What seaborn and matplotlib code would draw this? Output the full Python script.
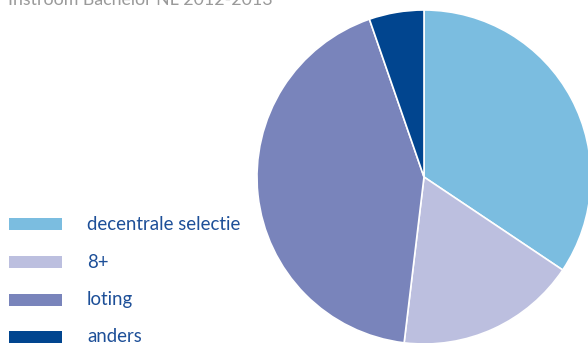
import matplotlib
matplotlib.use("Agg")
import matplotlib.pyplot as plt
from matplotlib.patches import Rectangle
import seaborn as sns

# Intake share per admission route (percent)
categories = ["decentrale selectie", "8+", "loting", "anders"]
shares = [34.4, 17.5, 42.8, 5.3]
colors = ["#7bbde0", "#bcbfdf", "#7984bb", "#01458f"]
title = "Instroom Bachelor NL 2012-2013"

sns.set_theme(style="white")
plt.rcParams["font.family"] = ["Lato", "DejaVu Sans"]

W, H = 588, 343
fig = plt.figure(figsize=(W / 100, H / 100), dpi=100)
fig.patch.set_facecolor("white")

# Pie axes: centre (424, 177) px, radius 167 px
cx, cy, r = 424, 177, 167
ax = fig.add_axes([(cx - r) / W, (H - cy - r) / H, 2 * r / W, 2 * r / H])
ax.pie(shares, colors=colors, startangle=90, counterclock=False,
       wedgeprops=dict(edgecolor="white", linewidth=1.2))
ax.set_xlim(-1, 1)
ax.set_ylim(-1, 1)
ax.set_aspect("equal")
ax.axis("off")

# Title, partly above the top edge
fig.text(8 / W, 1 - 5 / H, title, color="#9a9a9a", fontsize=12.8,
         ha="left", va="baseline")

# Legend
text_color = "#1d4f98"
row_y = [224, 262, 300, 337]
for label, col, y in zip(categories, colors, row_y):
    fig.add_artist(Rectangle((9 / W, 1 - (y + 6) / H), 53 / W, 12 / H,
                             transform=fig.transFigure, facecolor=col,
                             edgecolor="none"))
    fig.text(87 / W, 1 - y / H, label, color=text_color, fontsize=13.4,
             ha="left", va="center")

fig.savefig("out.png", dpi=100)
